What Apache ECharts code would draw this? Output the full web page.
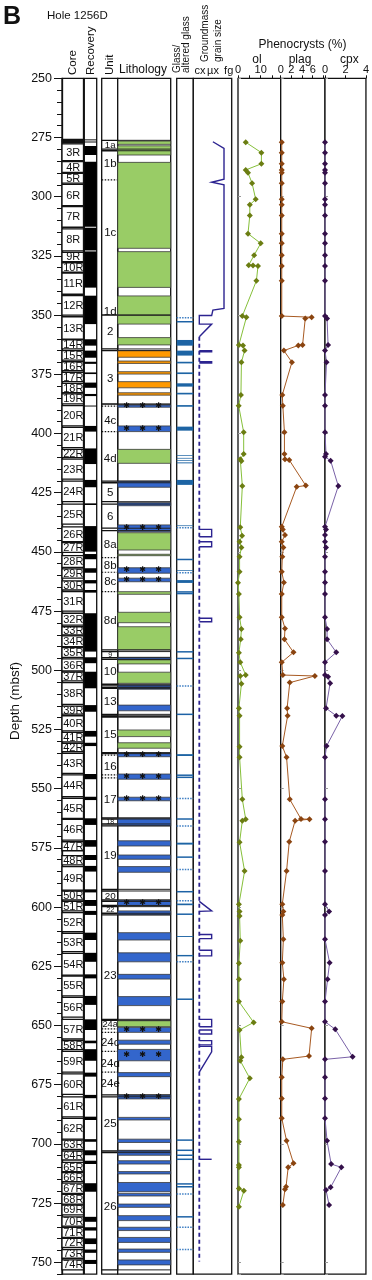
<!DOCTYPE html>
<html><head><meta charset="utf-8">
<script src="https://cdn.jsdelivr.net/npm/echarts@6/dist/echarts.min.js"></script>
<style>html,body{margin:0;padding:0;background:#fff}#c{width:372px;height:1280px}</style>
</head><body><div id="c"></div>
<script>
const FONT = '"Liberation Sans", Arial, Helvetica, sans-serif';

// ---------------- DATA ----------------
const depthTicks = [250, 275, 300, 325, 350, 375, 400, 425, 450, 475, 500, 525, 550, 575, 600, 625, 650, 675, 700, 725, 750];

const coreNames = ['1R','2R','3R','4R','5R','6R','7R','8R','9R','10R','11R','12R','13R','14R','15R','16R','17R','18R','19R','20R','21R','22R','23R','24R','25R','26R','27R','28R','29R','30R','31R','32R','33R','34R','35R','36R','37R','38R','39R','40R','41R','42R','43R','44R','45R','46R','47R','48R','49R','50R','51R','52R','53R','54R','55R','56R','57R','58R','59R','60R','61R','62R','63R','64R','65R','66R','67R','68R','69R','70R','71R','72R','73R','74R'];
const coreTop = [275.8,276.7,277.7,285.2,290.1,294.8,304.2,313.6,323.5,327.9,332.3,341.8,350.7,360.5,365.0,369.7,374.2,378.8,383.3,388.2,397.4,406.7,410.8,420.1,429.8,439.4,446.1,451.6,457.2,462.2,466.8,475.9,481.6,485.5,490.4,495.2,500.8,505.2,515.1,519.2,526.2,530.8,535.1,544.2,554.1,562.9,572.4,578.3,582.9,593.2,597.6,602.3,611.1,619.5,629.1,638.1,647.4,656.4,660.9,670.4,680.1,689.2,698.4,703.0,707.8,712.1,716.6,721.3,725.8,730.8,735.2,739.9,744.6,749.0];
const coreBottom = [276.3,277.3,284.8,289.7,294.3,303.8,312.9,322.9,327.4,331.9,341.2,350.0,360.2,364.3,369.0,373.5,378.1,382.8,387.5,396.8,406.0,410.2,419.3,428.8,438.3,445.7,450.2,456.5,461.1,466.1,475.0,480.9,485.1,490.0,494.5,500.3,504.5,514.4,518.5,525.6,530.2,534.4,543.5,553.4,562.5,571.7,576.2,582.2,592.8,597.0,601.6,610.4,618.8,628.7,637.5,646.5,655.7,660.2,669.7,679.1,688.6,698.0,702.3,706.8,711.7,715.9,720.9,725.4,730.0,734.7,739.5,743.7,748.3,753.2];

const recTop = [275.8,276.7,278.6,285.2,313.1,323.1,341.8,360.2,365.0,369.7,374.2,378.5,383.3,388.2,396.8,406.3,419.6,429.5,439.1,450.9,456.9,461.9,466.1,475.9,494.5,500.6,514.7,525.6,530.6,543.8,553.4,562.5,571.7,578.0,582.6,592.5,597.0,601.6,610.8,619.3,628.4,637.5,647.4,656.4,660.0,669.9,679.3,688.5,698.0,702.7,707.1,716.6,730.8,735.2,739.9,744.6,749.0];
const recBottom = [276.2,277.1,282.4,312.7,322.7,338.4,353.8,362.9,368.0,370.6,374.9,380.7,384.2,388.6,399.2,412.9,422.7,430.2,449.9,453.1,458.8,463.3,467.2,492.1,497.0,507.6,517.5,528.0,532.0,546.0,554.8,565.3,574.5,580.1,585.0,593.8,599.5,603.3,613.9,623.1,630.1,641.3,651.9,657.5,664.9,671.6,680.7,689.9,699.1,704.8,708.5,720.2,732.9,736.6,742.3,746.0,750.7];

const unitBoxTop = [276.2,280.6,350.0,365.0,387.6,420.8,429.8,441.0,492.1,495.4,506.6,507.6,519.2,519.8,535.2,562.8,565.7,593.2,597.6,599.8,603.3,647.8,680.1,703.7];
const unitBoxBottom = [279.9,350.0,364.3,387.6,420.1,428.8,440.0,491.4,494.7,505.9,507.3,518.6,519.5,534.8,562.3,564.9,592.5,597.0,599.3,602.6,647.4,679.3,703.0,753.2];
const subUnitLines = [292.9,388.4,399.2,452.4,458.6,466.8,535.8,544.2,545.4,651.4,652.9,660.9,669.7];
const unitLabels = ['1a','1b','1c','1d','2','3','4c','4d','5','6','8a','8b','8c','8d','9','10','13','15','16','17','18','19','20','22','23','24a','24c','24d','24e','25','26'];
const unitLabelDepth = [278.0,285.9,315.0,348.6,357.0,376.5,394.3,410.5,424.8,434.8,447.0,455.5,462.3,479.0,493.4,500.5,513.0,527.0,540.7,554.3,563.8,578.0,595.1,601.2,628.7,649.2,657.1,665.9,674.3,691.5,726.5];

// lithology: g = aphyric/basalt (green), o = orange, b = blue
const lithTop = [276.5,278.5,285.5,323.2,341.9,359.5,365.0,369.4,373.9,378.1,382.8,388.0,396.8,406.7,420.1,429.2,438.6,441.9,451.0,456.7,461.1,466.8,475.5,481.6,494.5,495.6,500.8,506.2,514.7,525.2,530.6,534.8,543.8,553.6,562.5,572.0,578.0,582.9,597.0,601.6,610.8,619.3,628.4,637.8,648.0,650.8,656.2,660.1,669.9,679.3,688.8,698.0,702.7,707.1,711.7,716.3,720.9,725.4,730.3,735.2,739.5,744.4,749.0];
const lithBottom = [277.9,282.4,321.8,338.3,353.8,362.6,367.8,370.4,374.9,380.7,383.8,388.9,399.2,412.6,422.7,430.5,441.5,449.2,451.6,459.0,462.6,467.9,479.9,491.4,495.4,497.3,505.5,508.0,517.1,528.0,532.9,536.5,546.0,555.1,565.7,574.2,579.8,585.3,599.4,603.3,613.9,623.1,630.4,641.6,650.5,652.9,657.9,664.9,671.6,681.0,689.9,699.4,704.8,708.5,712.7,720.2,722.0,726.8,732.4,736.6,741.6,745.8,751.1];
const lithType = ['g','g','g','g','g','g','o','o','o','o','o','b','b','g','b','b','b','g','g','b','b','g','g','g','b','g','g','b','b','g','g','b','b','b','b','b','b','b','b','b','b','b','b','b','g','b','b','b','b','b','b','b','b','b','b','b','b','b','b','b','b','b','b'];
const glassyDepths = [388.4,398.0,440.0,457.8,461.8,535.6,544.9,554.3,598.2,651.8,662.5,680.2];

// glass (g) / altered glass (a)
const glassTop = [351.1,352.7,360.5,365.0,369.7,374.2,378.8,382.8,388.0,397.1,409.2,410.3,411.3,412.2,419.6,438.8,439.8,453.2,457.7,458.8,461.9,466.9,467.6,492.2,495.0,506.6,518.6,535.4,544.3,545.2,554.1,562.8,565.7,572.8,578.9,584.1,593.5,597.3,598.5,603.0,612.2,620.2,623.1,638.9,698.4,702.7,704.8,706.5,716.9,718.1,721.2,730.8,735.2,744.6];
const glassBottom = [351.1,352.9,362.9,367.1,370.4,374.9,380.2,383.5,388.7,398.8,409.5,410.6,411.6,412.6,421.7,439.1,439.8,453.2,458.0,458.8,463.1,466.9,467.6,492.2,495.0,506.6,518.6,536.2,544.3,545.2,554.1,562.8,565.7,573.6,578.9,584.1,593.5,597.3,599.2,603.0,612.6,620.8,623.1,638.9,698.4,702.7,704.8,706.5,716.9,718.1,721.2,730.8,735.2,744.6];
const glassKind = ['a','g','g','g','g','g','g','g','g','g','g','g','g','g','g','g','a','g','g','a','g','g','g','g','g','a','g','g','g','g','a','g','a','g','g','a','g','a','g','g','g','g','a','g','g','g','g','g','g','g','a','g','a','a'];

// groundmass grain size: 1 = cx, 2 = µx, 3 = fg
const gmUpper = [[2.1,276.8],[3,279.6],[3,292.6],[2,293.9],[3,295.0],[3,347.2],[2.1,347.9],[2,350.2],[1,350.2],[1,353.8],[2,353.8],[1,359.1]];
const gmSpikes = [
  [[1,365.0],[2,365.0],[2,365.5],[1,365.5]],
  [[1,369.7],[2,369.7],[2,370.2],[1,370.2]],
  [[1,440.5],[2,440.5],[2,443.6],[1,443.6]],
  [[1,445.7],[2,445.7],[2,447.8],[1,447.8]],
  [[1,478.0],[2,478.0],[2,479.5],[1,479.5]],
  [[1,597.6],[2,601.6],[1,601.8]],
  [[1,611.6],[2,611.6],[2,613.3],[1,613.3]],
  [[1,618.2],[2,618.2],[2,620.6],[1,620.6]],
  [[1,647.4],[2,647.4],[2,650.5],[1,650.5]],
  [[1,651.9],[2,651.9],[2,653.6],[1,653.6]],
  [[1,656.4],[2,656.4],[2,658.2],[1,658.2]],
  [[1,658.8],[2,658.8],[2,661.1],[1,669.7]],
  [[1,706.5],[2,706.5]]
];
const gmBaseline = [[1,359.1],[1,749.7]];

// phenocrysts (%)
const olDepth = [277.0,281.4,286.1,288.7,289.9,294.3,301.1,303.4,307.9,315.6,319.7,324.7,328.9,329.1,329.3,335.5,350.4,350.9,362.6,362.8,365.0,369.9,383.7,388.3,399.5,408.7,410.9,411.6,422.2,439.6,443.2,445.7,448.1,452.0,458.4,463.0,467.8,477.6,482.6,486.9,492.6,496.6,502.0,502.4,505.7,516.0,519.2,532.3,536.7,554.5,562.9,563.5,572.6,584.8,598.8,601.9,603.8,614.2,623.7,630.5,639.9,648.7,651.9,663.4,664.9,672.3,681.0,689.6,699.1,708.9,709.9,718.8,719.8,726.5];
const olVal = [3.4,10.3,10.3,3.4,4.4,6.2,7.8,5.2,5.2,4.4,10.0,7.1,4.7,6.6,8.8,8.1,1.9,3.7,0.4,2.2,2.9,1.5,1.3,0.3,2.5,2.5,1.0,1.5,1.9,1.0,1.8,0.7,1.5,0.7,0.7,0.0,0.4,0.7,1.5,1.2,0.4,1.0,3.4,1.0,1.5,0.4,0.7,0.7,0.7,1.9,3.4,1.9,0.7,2.9,0.4,0.7,0.7,1.0,0.4,0.4,0.4,6.9,0.7,1.5,1.0,5.2,0.4,0.4,0.4,0.4,0.4,0.4,2.6,0.4];

const plagDepth = [277.0,281.4,286.1,288.7,289.9,294.3,301.1,303.4,307.9,315.6,319.7,324.7,329.3,335.5,350.4,350.9,351.4,362.6,362.8,365.0,369.9,383.7,388.3,399.5,408.7,410.9,411.2,422.0,422.5,439.4,440.5,442.9,445.7,448.1,452.0,458.4,462.9,467.8,477.6,482.3,486.9,492.4,496.6,502.0,502.4,505.2,516.0,519.2,532.0,536.7,554.5,562.8,562.9,563.5,572.4,584.8,598.8,601.9,603.3,613.6,623.5,630.5,639.9,648.4,651.2,662.9,664.3,671.9,680.8,689.2,698.7,708.2,709.9,718.1,719.2,725.8];
const plagVal = [0.2,0.2,0.2,0.2,0.2,0.2,0.2,0.2,0.2,0.2,0.2,0.2,0.2,0.2,0.2,5.8,4.6,4.1,3.3,0.6,2.1,0.3,0.4,0.7,0.7,0.8,1.6,4.7,3.0,0.2,0.4,0.8,0.2,0.5,0.3,0.2,0.6,0.2,0.2,0.8,0.7,2.4,0.2,0.4,6.4,1.7,1.2,1.3,0.3,1.1,1.7,3.8,5.4,2.7,1.6,1.1,0.3,0.5,0.3,0.5,0.3,0.6,0.3,0.2,5.8,5.3,0.4,0.2,0.2,0.2,1.1,2.4,1.4,1.0,0.8,0.4];

const cpxDepth = [277.0,281.4,286.1,288.7,289.9,294.3,301.1,303.4,307.9,315.6,319.7,324.7,329.3,335.5,350.4,351.4,362.6,365.0,369.9,383.7,388.3,399.5,408.7,409.8,411.5,422.2,439.4,440.5,442.9,445.7,448.1,452.0,458.4,462.9,467.8,477.6,482.6,486.9,492.4,496.6,502.0,502.7,505.5,516.0,519.2,519.3,532.0,536.7,554.5,562.9,572.4,584.8,598.8,601.9,603.3,613.6,623.5,630.5,639.9,648.4,651.6,663.2,664.3,671.9,680.8,689.2,698.7,708.5,709.9,718.3,719.5,725.8];
const cpxVal = [0,0,0,0,0,0,0,0,0,0,0,0,0,0,0,0.2,0.3,0,0.15,0,0,0,0.1,0,0.55,1.3,0,0.1,0,0,0.1,0,0,0,0,0,0.2,0.2,1.1,0,0,0.3,0.5,0.1,1.1,1.7,0.15,0,0,0,0,0,0,0.4,0,0,0.45,0.25,0,0,1.0,2.7,0,0,0,0,0.2,0.6,1.6,0.55,0.1,0.4];

// ---------------- LAYOUT ----------------
const PX = 2.368;           // px per metre
const TOP = 78.3;
const DMIN = 250, DMAX = 755;
const H = (DMAX - DMIN) * PX;
const cols = [
  {left: 62, width: 21.5},     // 0 core
  {left: 84.3, width: 12.4},   // 1 recovery
  {left: 101.7, width: 16},    // 2 unit
  {left: 117.7, width: 53},    // 3 lithology
  {left: 176.7, width: 16.6},  // 4 glass
  {left: 193.3, width: 38.4},  // 5 groundmass
  {left: 238, width: 42.7},    // 6 ol
  {left: 280.7, width: 44.3},  // 7 plag
  {left: 325, width: 43.3}     // 8 cpx
];
const LITH_COL = {g: '#99cc66', o: '#ff9900', b: '#3366cc'};

const grids = cols.map(c => ({left: c.left, width: c.width, top: TOP, height: H, show: true,
  borderColor: '#111', borderWidth: 1.3, backgroundColor: '#fff', containLabel: false}));
grids.push({left: 62, width: 1, top: TOP, height: (750 - 250) * PX, show: false});

const hiddenX = (min, max) => ({type: 'value', min, max, show: false});
const xAxes = [
  hiddenX(0, 1), hiddenX(0, 1), hiddenX(0, 1), hiddenX(0, 1), hiddenX(0, 1),
  hiddenX(0.514, 3.623),
  {type: 'value', min: 0, max: 18.8, interval: 5, position: 'top', gridIndex: 6},
  {type: 'value', min: 0, max: 8.3, interval: 2, position: 'top', gridIndex: 7},
  {type: 'value', min: 0, max: 4, interval: 2, position: 'top', gridIndex: 8},
  hiddenX(0, 1)
];
xAxes.forEach((a, i) => { a.gridIndex = i; });
[6, 7, 8].forEach(i => {
  Object.assign(xAxes[i], {
    axisLine: {show: false}, splitLine: {show: false},
    axisTick: {show: true, length: 3, inside: false, lineStyle: {color: '#111', width: 1}},
    axisLabel: {show: true, fontSize: 11, color: '#111', fontFamily: FONT, margin: 3,
      showMaxLabel: i === 8,
      formatter: v => (i === 6 ? (v % 10 === 0 ? String(v) : '') : (i === 7 ? (v <= 6 ? String(v) : '') : String(v)))}
  });
});

const yAxes = [];
for (let i = 0; i < 9; i++) {
  const y = {type: 'value', gridIndex: i, inverse: true, min: DMIN, max: DMAX, show: false, splitLine: {show: false}};
  if (i === 0) {
    Object.assign(y, {show: true, position: 'left', interval: 5,
      axisLine: {show: true, lineStyle: {color: '#111', width: 1.3}},
      axisTick: {show: true, length: 5, lineStyle: {color: '#111', width: 1}},
      axisLabel: {show: false}});
  }
  if (i >= 6) {
    Object.assign(y, {show: true, position: 'left', interval: 50,
      axisLine: {show: false},
      axisTick: {show: true, inside: true, length: 3, lineStyle: {color: '#999', width: 1}},
      axisLabel: {show: false}});
  }
  yAxes.push(y);
}
yAxes.push({type: 'value', gridIndex: 9, inverse: true, min: depthTicks[0], max: depthTicks[depthTicks.length - 1], interval: 25,
  position: 'left', axisLine: {show: false}, splitLine: {show: false},
  axisTick: {show: true, length: 8, lineStyle: {color: '#111', width: 1}},
  axisLabel: {show: true, fontSize: 12.5, color: '#111', fontFamily: FONT, margin: 10}});

function vRect(params, api, t, b) {
  const cs = params.coordSys;
  const y1 = api.coord([cs ? 0 : 0, t])[1];
  const y2 = api.coord([0, b])[1];
  return {x: cs.x, y: y1, width: cs.width, height: y2 - y1};
}

const series = [];

// core boxes
series.push({type: 'custom', xAxisIndex: 0, yAxisIndex: 0, data: coreTop.map((t, i) => [t, coreBottom[i]]),
  renderItem(params, api) {
    const t = api.value(0), b = api.value(1);
    const r = vRect(params, api, t, b);
    const ch = [{type: 'rect', shape: r, style: {fill: '#fff', stroke: '#111', lineWidth: 1.3}}];
    if (b - t > 2) ch.push({type: 'text', style: {text: coreNames[params.dataIndex], x: r.x + r.width / 2 + 0.5, y: r.y + r.height / 2 + 0.5,
      align: 'center', verticalAlign: 'middle', fontSize: 11, fontFamily: FONT, fill: '#111'}});
    return {type: 'group', children: ch};
  }});

// recovery
series.push({type: 'custom', xAxisIndex: 1, yAxisIndex: 1, data: recTop.map((t, i) => [t, recBottom[i]]),
  renderItem(params, api) {
    return {type: 'rect', shape: vRect(params, api, api.value(0), api.value(1)), style: {fill: '#000'}};
  }});

// unit boxes
series.push({type: 'custom', xAxisIndex: 2, yAxisIndex: 2, data: unitBoxTop.map((t, i) => [t, unitBoxBottom[i]]),
  renderItem(params, api) {
    return {type: 'rect', shape: vRect(params, api, api.value(0), api.value(1)), style: {fill: '#fff', stroke: '#111', lineWidth: 1.3}};
  }});
// sub-unit dotted lines
series.push({type: 'custom', xAxisIndex: 2, yAxisIndex: 2, data: subUnitLines.map(d => [0, d]),
  renderItem(params, api) {
    const cs = params.coordSys; const y = api.coord([0, api.value(1)])[1];
    return {type: 'line', shape: {x1: cs.x, y1: y, x2: cs.x + cs.width, y2: y}, style: {stroke: '#111', lineWidth: 1.2, lineDash: [1.5, 1.5]}};
  }});
// unit labels
const bounds = unitBoxTop.concat(unitBoxBottom, subUnitLines);
series.push({type: 'custom', xAxisIndex: 2, yAxisIndex: 2, data: unitLabelDepth.map(d => [0.5, d]),
  renderItem(params, api) {
    const d = api.value(1);
    let above = -1e9, below = 1e9;
    bounds.forEach(b => { if (b <= d && b > above) above = b; if (b >= d && b < below) below = b; });
    const h = (below - above) * PX;
    const fs = Math.max(7, Math.min(11.5, h * 1.1));
    const p = api.coord([0.5, d]);
    return {type: 'text', style: {text: unitLabels[params.dataIndex], x: p[0] + 0.5, y: p[1] + 0.5, align: 'center', verticalAlign: 'middle',
      fontSize: fs, fontFamily: FONT, fill: '#111'}};
  }});

// lithology
series.push({type: 'custom', xAxisIndex: 3, yAxisIndex: 3, data: lithTop.map((t, i) => [t, lithBottom[i]]),
  renderItem(params, api) {
    return {type: 'rect', shape: vRect(params, api, api.value(0), api.value(1)),
      style: {fill: LITH_COL[lithType[params.dataIndex]], stroke: '#3a3a3a', lineWidth: 0.8}};
  }});
// unit boundaries across lithology
series.push({type: 'custom', xAxisIndex: 3, yAxisIndex: 3, data: unitBoxTop.concat(unitBoxBottom).map(d => [0, d]),
  renderItem(params, api) {
    const cs = params.coordSys; const y = api.coord([0, api.value(1)])[1];
    return {type: 'line', shape: {x1: cs.x, y1: y, x2: cs.x + cs.width, y2: y}, style: {stroke: '#222', lineWidth: 1}};
  }});
// glassy margin symbols
series.push({type: 'custom', xAxisIndex: 3, yAxisIndex: 3, data: glassyDepths.map(d => [0, d]),
  renderItem(params, api) {
    const cs = params.coordSys; const y = api.coord([0, api.value(1)])[1];
    const ch = [0.17, 0.47, 0.77].map(f => ({type: 'text', style: {text: '✱', x: cs.x + cs.width * f, y: y,
      align: 'center', verticalAlign: 'middle', fontSize: 8, fontFamily: '"DejaVu Sans", sans-serif', fill: '#111'}}));
    return {type: 'group', children: ch};
  }});

// glass column
series.push({type: 'custom', xAxisIndex: 4, yAxisIndex: 4, data: glassTop.map((t, i) => [t, glassBottom[i]]),
  renderItem(params, api) {
    const t = api.value(0), b = api.value(1);
    const kind = glassKind[params.dataIndex];
    const cs = params.coordSys;
    if (b - t < 0.25) {
      const y = api.coord([0, (t + b) / 2])[1];
      return {type: 'line', shape: {x1: cs.x, y1: y, x2: cs.x + cs.width, y2: y},
        style: {stroke: kind === 'a' ? '#3f7fc4' : '#1d62a6', lineWidth: 1.5, lineDash: kind === 'a' ? [1.5, 1.2] : null}};
    }
    return {type: 'rect', shape: vRect(params, api, t, b), style: {fill: '#1d64a4'}};
  }});

// groundmass
const gmSegs = [gmUpper].concat(gmSpikes);
series.push({type: 'custom', xAxisIndex: 5, yAxisIndex: 5, data: gmSegs.map((s, i) => [1, s[0][1]]),
  renderItem(params, api) {
    const pts = gmSegs[params.dataIndex].map(p => api.coord(p));
    return {type: 'polyline', shape: {points: pts}, style: {stroke: '#2c2390', lineWidth: 1.4, fill: null}};
  }});
series.push({type: 'line', xAxisIndex: 5, yAxisIndex: 5, data: gmBaseline, symbol: 'none',
  lineStyle: {color: '#2c2390', width: 1.8, type: [4, 3]}, silent: true});

// phenocrysts
function phenoSeries(idx, depths, vals, lineCol, markCol) {
  return {type: 'line', xAxisIndex: idx, yAxisIndex: idx, data: depths.map((d, i) => [vals[i], d]),
    symbol: 'diamond', symbolSize: 6, showAllSymbol: true, clip: false,
    lineStyle: {color: lineCol, width: 1}, itemStyle: {color: markCol}, silent: true};
}
series.push(phenoSeries(6, olDepth, olVal, '#86c03a', '#6b7d12'));
series.push(phenoSeries(7, plagDepth, plagVal, '#a85a22', '#8a4410'));
series.push(phenoSeries(8, cpxDepth, cpxVal, '#7a62a8', '#34104a'));

// ---------------- TEXTS ----------------
const T = (text, x, y, size, opts) => Object.assign({type: 'text', x, y,
  style: Object.assign({text, fontSize: size, fontFamily: FONT, fill: '#111', align: 'left', verticalAlign: 'middle'}, (opts && opts.style) || {})},
  opts && opts.rotation ? {rotation: opts.rotation} : {});
const R = Math.PI / 2;
const graphic = [
  T('B', 3, 17.5, 25, {style: {fontWeight: 'bold'}}),
  T('Hole 1256D', 47, 16, 11.5),
  T('Core', 72.5, 75, 11.5, {rotation: R}),
  T('Recovery', 90.7, 75, 11.5, {rotation: R}),
  T('Unit', 110.2, 75, 11.5, {rotation: R}),
  T('Lithology', 119, 69.5, 12),
  T('Glass/', 177, 73, 10, {rotation: R}),
  T('altered glass', 186.5, 73, 10, {rotation: R}),
  T('Groundmass', 205, 62, 10, {rotation: R}),
  T('grain size', 218, 62, 10, {rotation: R}),
  T('cx', 200, 71, 11, {style: {align: 'center'}}),
  T('µx', 213, 71, 11, {style: {align: 'center'}}),
  T('fg', 228.7, 71, 11, {style: {align: 'center'}}),
  T('Phenocrysts (%)', 302.5, 45, 12, {style: {align: 'center'}}),
  T('ol', 257, 59.5, 12, {style: {align: 'center'}}),
  T('plag', 300, 59.5, 12, {style: {align: 'center'}}),
  T('cpx', 349.3, 59.5, 12, {style: {align: 'center'}}),
  T('Depth (mbsf)', 15.5, 701, 13.5, {rotation: R, style: {align: 'center'}})
];

const chart = echarts.init(document.getElementById('c'), null, {renderer: 'canvas'});
chart.setOption({animation: false, grid: grids, xAxis: xAxes, yAxis: yAxes, series, graphic});
</script>
</body></html>
